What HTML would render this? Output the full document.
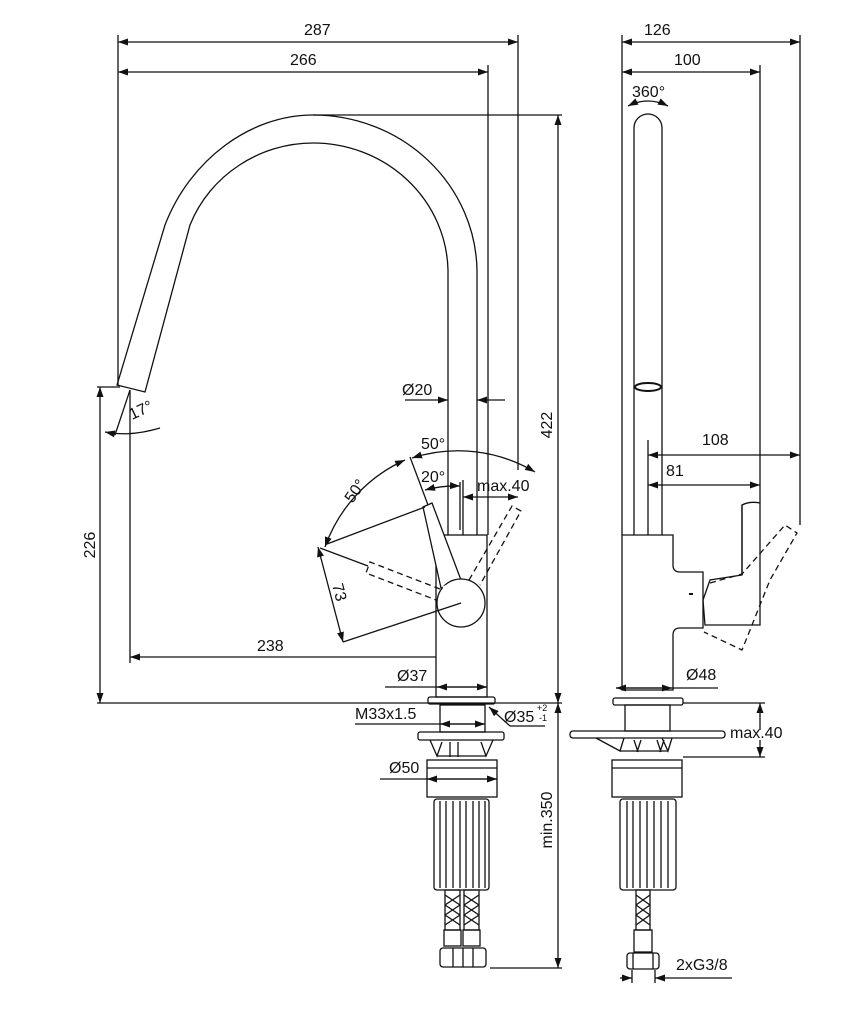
<!DOCTYPE html>
<html><head><meta charset="utf-8"><style>
html,body{margin:0;padding:0;background:#fff;}
svg{display:block;}
text{font-family:"Liberation Sans",sans-serif;font-size:16px;fill:#111;}
</style></head><body>
<svg width="863" height="1024" viewBox="0 0 863 1024" xmlns="http://www.w3.org/2000/svg">
<defs>
<marker id="a" viewBox="0 0 10 10" refX="10" refY="5" markerWidth="10" markerHeight="10" orient="auto-start-reverse" markerUnits="userSpaceOnUse"><path d="M0,1.5 L10,5 L0,8.5z" fill="#111"/></marker>
</defs>
<g stroke="#111" stroke-width="1.3" fill="none">
<!-- LEFT VIEW dims -->
<line x1="118" y1="42" x2="518" y2="42" marker-start="url(#a)" marker-end="url(#a)"/>
<line x1="118" y1="72" x2="488" y2="72" marker-start="url(#a)" marker-end="url(#a)"/>
<line x1="118" y1="35" x2="118" y2="385"/>
<line x1="488" y1="65" x2="488" y2="535"/>
<line x1="518" y1="35" x2="518" y2="470"/>
<line x1="313" y1="115" x2="562" y2="115"/>
<line x1="558" y1="115" x2="558" y2="703" marker-start="url(#a)" marker-end="url(#a)"/>
<line x1="97" y1="703" x2="562" y2="703"/>
<line x1="100" y1="387" x2="100" y2="703" marker-start="url(#a)" marker-end="url(#a)"/>
<line x1="97" y1="387" x2="120" y2="387"/>
<line x1="130" y1="390" x2="130" y2="663"/>
<line x1="130" y1="657" x2="462" y2="657" marker-start="url(#a)"/>
<line x1="462" y1="650" x2="462" y2="690"/>
<line x1="130" y1="390" x2="115" y2="435"/>
<path d="M105,432 Q130,437 160,428" marker-start="url(#a)"/>
<!-- spout -->
<path d="M477,535 L477,270 A164,158 0 0 0 313,115 C250,115 190,160 165,225 L117,385 L145,392 L190,225 C210,175 260,143 313,143 A135,130 0 0 1 448,270 L448,535"/>
<!-- Ø20 -->
<line x1="405" y1="400" x2="448" y2="400" marker-end="url(#a)"/>
<line x1="505" y1="400" x2="477" y2="400" marker-end="url(#a)"/>
<line x1="463" y1="480" x2="463" y2="535"/>
<!-- body -->
<rect x="436" y="535" width="51" height="162" fill="#fff"/>
<path d="M423,507 L432,503 L461,580 L441,588 Z" fill="#fff"/>
<circle cx="461" cy="603" r="24" fill="#fff"/>
<path d="M443,588 L459,581" stroke="#fff" stroke-width="3"/>
<!-- dashed handles -->
<g stroke-dasharray="6,4">
<path d="M440,589 L370,562 L366,573 L436,600"/>
<path d="M469,580 L512,506 L521,511 L480,585"/>
</g>
<!-- angle lines/arcs -->
<line x1="327" y1="544" x2="425" y2="507"/>
<line x1="320" y1="548" x2="368" y2="566"/>
<line x1="461" y1="603" x2="343" y2="642"/>
<line x1="318" y1="547" x2="343" y2="642" marker-start="url(#a)" marker-end="url(#a)"/>
<line x1="410" y1="457" x2="428" y2="505"/>
<path d="M325,547 A150,150 0 0 1 405,460" marker-start="url(#a)" marker-end="url(#a)"/>
<path d="M412,458 A150,150 0 0 1 535,472" marker-start="url(#a)" marker-end="url(#a)"/>
<path d="M425,490 A118,118 0 0 1 460,486" marker-start="url(#a)" marker-end="url(#a)"/>
<line x1="460" y1="482" x2="460" y2="530"/>
<line x1="463" y1="497" x2="518" y2="497" marker-start="url(#a)" marker-end="url(#a)"/>
<!-- Ø37 -->
<line x1="385" y1="687" x2="487" y2="687"/>
<line x1="462" y1="687" x2="437" y2="687" marker-end="url(#a)"/>
<line x1="462" y1="687" x2="487" y2="687" marker-end="url(#a)"/>
<!-- under counter left -->
<rect x="428" y="697" width="67" height="7" rx="2"/>
<rect x="440" y="705" width="45" height="27"/>
<line x1="355" y1="724" x2="485" y2="724"/>
<line x1="462" y1="724" x2="440" y2="724" marker-end="url(#a)"/>
<line x1="462" y1="724" x2="485" y2="724" marker-end="url(#a)"/>
<line x1="510" y1="726" x2="545" y2="726"/>
<line x1="510" y1="726" x2="489" y2="707" marker-end="url(#a)"/>
<rect x="418" y="732" width="86" height="8" rx="2"/>
<path d="M430,740 L437,756 L442,742 M493,740 L486,756 L481,742 M450,742 L450,757 M458,742 L458,757 M437,756 L486,756"/>
<rect x="427" y="760" width="70" height="37"/>
<line x1="427" y1="768" x2="497" y2="768"/>
<line x1="380" y1="779" x2="497" y2="779"/>
<line x1="462" y1="779" x2="427" y2="779" marker-end="url(#a)"/>
<line x1="462" y1="779" x2="497" y2="779" marker-end="url(#a)"/>
<rect x="434" y="799" width="55" height="91" rx="3"/>
<path d="M440,801 V888 M446,801 V888 M453,801 V888 M460,801 V888 M466,801 V888 M473,801 V888 M479,801 V888 M485,801 V888"/>
<rect x="445" y="890" width="15" height="40"/>
<rect x="464" y="890" width="15" height="40"/>
<path d="M445,895 L460,905 M445,905 L460,915 M445,915 L460,925 M460,895 L445,905 M460,905 L445,915 M460,915 L445,925 M464,895 L479,905 M464,905 L479,915 M464,915 L479,925 M479,895 L464,905 M479,905 L464,915 M479,915 L464,925"/>
<rect x="444" y="930" width="17" height="16"/>
<rect x="463" y="930" width="17" height="16"/>
<rect x="440" y="948" width="46" height="19" rx="3"/>
<path d="M453,948 V967 M463,948 V967 M473,948 V967"/>
<line x1="490" y1="968" x2="562" y2="968"/>
<line x1="558" y1="703" x2="558" y2="968" marker-start="url(#a)" marker-end="url(#a)"/>

<!-- RIGHT VIEW -->
<line x1="622" y1="42" x2="800" y2="42" marker-start="url(#a)" marker-end="url(#a)"/>
<line x1="622" y1="72" x2="760" y2="72" marker-start="url(#a)" marker-end="url(#a)"/>
<line x1="622" y1="35" x2="622" y2="535"/>
<line x1="760" y1="65" x2="760" y2="503"/>
<line x1="800" y1="35" x2="800" y2="525"/>
<path d="M634,535 L634,128 A14,14 0 0 1 662,128 L662,535"/>
<ellipse cx="648" cy="387" rx="13" ry="4" stroke-width="2"/>
<path d="M628,106 Q648,96 668,106" marker-start="url(#a)" marker-end="url(#a)"/>
<line x1="648" y1="440" x2="648" y2="535"/>
<line x1="648" y1="455" x2="800" y2="455" marker-start="url(#a)" marker-end="url(#a)"/>
<line x1="648" y1="485" x2="760" y2="485" marker-start="url(#a)" marker-end="url(#a)"/>
<path d="M622,535 L673,535 L673,565 Q673,572 680,572 L703,572 L703,628 L680,628 Q673,628 673,635 L673,690 L622,690 Z"/>
<path d="M742,505 Q750,501 760,503 L760,625 L705,625 L703,600 L710,580 L742,575 Z"/>
<line x1="742" y1="505" x2="742" y2="575"/>
<line x1="689" y1="594" x2="693" y2="594" stroke-width="2"/>
<g stroke-dasharray="6,4"><path d="M710,583 L742,574 L785,525 L797,533 L770,580 L742,650 L704,632"/></g>
<line x1="616" y1="688" x2="718" y2="688"/>
<line x1="648" y1="688" x2="616" y2="688" marker-end="url(#a)"/>
<line x1="648" y1="688" x2="672" y2="688" marker-end="url(#a)"/>
<rect x="613" y="698" width="70" height="7" rx="2"/>
<rect x="625" y="705" width="45" height="26"/>
<rect x="570" y="731" width="155" height="7" rx="3"/>
<path d="M596,738 L620,751 L624,738 M662,738 L668,751 L672,738 M620,751 L668,751 M634,740 L638,752 M641,740 L637,752 M657,740 L661,752 M664,740 L660,752"/>
<line x1="683" y1="703" x2="765" y2="703"/>
<line x1="683" y1="757" x2="765" y2="757"/>
<line x1="760" y1="703" x2="760" y2="730" marker-start="url(#a)"/>
<line x1="760" y1="757" x2="760" y2="740" marker-start="url(#a)"/>
<rect x="612" y="760" width="70" height="37"/>
<line x1="612" y1="768" x2="682" y2="768"/>
<rect x="620" y="799" width="56" height="91" rx="3"/>
<path d="M627,801 V888 M633,801 V888 M640,801 V888 M647,801 V888 M654,801 V888 M661,801 V888 M668,801 V888"/>
<rect x="636" y="890" width="14" height="40"/>
<path d="M636,895 L650,905 M636,905 L650,915 M636,915 L650,925 M650,895 L636,905 M650,905 L636,915 M650,915 L636,925"/>
<rect x="634" y="930" width="18" height="22"/>
<rect x="627" y="953" width="32" height="16" rx="3"/>
<path d="M633,953 V969 M653,953 V969"/>
<line x1="632" y1="970" x2="632" y2="983"/>
<line x1="655" y1="970" x2="655" y2="983"/>
<line x1="620" y1="978" x2="632" y2="978" marker-end="url(#a)"/>
<line x1="732" y1="978" x2="655" y2="978" marker-end="url(#a)"/>
</g>
<g>
<text x="304" y="35">287</text>
<text x="290" y="65">266</text>
<text x="644" y="35">126</text>
<text x="674" y="65">100</text>
<text x="632" y="97">360°</text>
<text x="402" y="395">Ø20</text>
<text x="421" y="449">50°</text>
<text x="421" y="482">20°</text>
<text x="477" y="491">max.40</text>
<text x="132" y="420" transform="rotate(-25 132 420)">17°</text>
<text x="340" y="500" transform="rotate(-55 350 490)">50°</text>
<text x="332" y="585" transform="rotate(75 332 585)">73</text>
<text x="257" y="651">238</text>
<text x="397" y="681">Ø37</text>
<text x="355" y="719">M33x1.5</text>
<text x="504" y="722">Ø35</text>
<text x="537" y="711" style="font-size:9px">+2</text>
<text x="539" y="721" style="font-size:9px">-1</text>
<text x="389" y="773">Ø50</text>
<text x="95" y="545" transform="rotate(-90 95 545)" text-anchor="middle">226</text>
<text x="552" y="425" transform="rotate(-90 552 425)" text-anchor="middle">422</text>
<text x="552" y="820" transform="rotate(-90 552 820)" text-anchor="middle">min.350</text>
<text x="702" y="445">108</text>
<text x="666" y="476">81</text>
<text x="686" y="680">Ø48</text>
<text x="730" y="738">max.40</text>
<text x="676" y="970">2xG3/8</text>
</g>
</svg>
</body></html>
